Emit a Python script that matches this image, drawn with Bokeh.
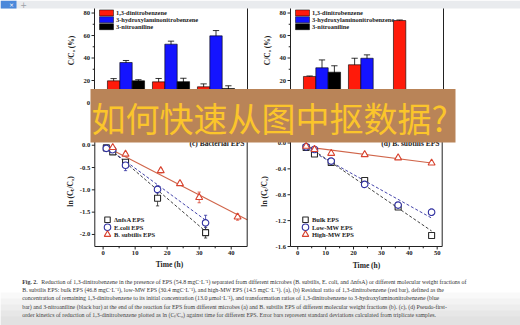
import numpy as np
from bokeh.plotting import figure
from bokeh.models import Range1d
from bokeh.core.properties import value
from bokeh.embed import file_html
from bokeh.resources import INLINE

W, H = 520, 325

# ---------------- data ----------------
bar_series = ["1,3-dinitrobenzene", "3-hydroxylaminonitrobenzene", "3-nitroaniline"]
bar_colors = ["#ff1a0a", "#1414ff", "#000000"]
bar_groups = [0, 1, 2]

a_dnb = [19.7, 18.8, 14.4]
a_dnb_err = [2.0, 3.0, 2.6]
a_han = [36.0, 52.3, 59.7]
a_han_err = [1.8, 2.7, 4.7]
a_na = [19.7, 19.0, 12.9]
a_na_err = [1.0, 3.0, 2.4]

b_dnb = [23.6, 34.0, 73.3]
b_dnb_err = [0.4, 5.8, 0.5]
b_han = [31.3, 39.8, 0.0]
b_han_err = [7.0, 3.0, 0.0]
b_na = [27.4, 0.0, 0.0]
b_na_err = [5.7, 0.0, 0.0]

bar_yticks = [0, 20, 40, 60, 80]
bar_ytick_labels = ["0", "20", "40", "60", "80"]
bar_yminor = [10, 30, 50, 70]

c_t = [1, 3, 7, 17, 32]
c_nfsA = [-0.06, -0.15, -0.38, -1.19, -1.96]
c_nfsA_err = [0.02, 0.03, 0.05, 0.17, 0.12]
c_ecoli = [-0.07, -0.10, -0.45, -0.99, -1.74]
c_ecoli_err = [0.02, 0.03, 0.12, 0.08, 0.17]
c_t_bsub = [3, 7, 18, 24, 30, 42]
c_bsub = [-0.05, -0.20, -0.57, -0.86, -1.17, -1.61]
c_bsub_err = [0.02, 0.03, 0.05, 0.04, 0.12, 0.07]
c_fit_t = [1, 32]
c_fit_nfsA = [-0.02, -1.93]
c_fit_ecoli = [-0.04, -1.68]
c_fit_t_bsub = [0, 45]
c_fit_bsub = [0.0, -1.67]
c_xticks = [0, 10, 20, 30, 40]
c_xtick_labels = ["0", "10", "20", "30", "40"]
c_xminor = [5, 15, 25, 35]
c_yticks = [0.0, -0.5, -1.0, -1.5, -2.0]
c_ytick_labels = ["0.0", "-0.5", "-1.0", "-1.5", "-2.0"]
c_legend = ["\u0394nfsA EPS", "E.coli EPS", "B. subtilis EPS"]

d_t = [3, 6, 12, 24, 36, 48]
d_bulk = [-0.07, -0.17, -0.30, -0.58, -0.99, -1.43]
d_bulk_err = [0.01, 0.02, 0.02, 0.03, 0.03, 0.02]
d_low = [-0.06, -0.10, -0.28, -0.64, -0.96, -1.07]
d_low_err = [0.01, 0.02, 0.02, 0.03, 0.03, 0.05]
d_high = [-0.05, -0.10, -0.16, -0.18, -0.23, -0.31]
d_high_err = [0.01, 0.01, 0.01, 0.01, 0.01, 0.01]
d_fit_t = [3, 48]
d_fit_bulk = [-0.035, -1.36]
d_fit_low = [-0.08, -1.16]
d_fit_high = [-0.06, -0.31]
d_xticks = [0, 10, 20, 30, 40, 50]
d_xtick_labels = ["0", "10", "20", "30", "40", "50"]
d_xminor = [5, 15, 25, 35, 45]
d_yticks = [0.0, -0.4, -0.8, -1.2, -1.6]
d_ytick_labels = ["0.0", "-0.4", "-0.8", "-1.2", "-1.6"]
d_legend = ["Bulk EPS", "Low-MW EPS", "High-MW EPS"]

banner_text = "如何快速从图中抠数据?"
caption_lead = "Fig. 2."
caption_lines = [
    "Reduction of 1,3-dinitrobenzene in the presence of EPS (54.8 mgC\u00b7L\u207b\u00b9) separated from different microbes (B. subtilis, E. coli, and \u0394nfsA) or different molecular weight fractions of",
    "B. subtilis EPS: bulk EPS (46.8 mgC\u00b7L\u207b\u00b9), low-MW EPS (30.4 mgC\u00b7L\u207b\u00b9), and high-MW EPS (14.5 mgC\u00b7L\u207b\u00b9). (a), (b) Residual ratio of 1,3-dinitrobenzene (red bar), defined as the",
    "concentration of remaining 1,3-dinitrobenzene to its initial concentration (13.0 \u03bcmol\u00b7L\u207b\u00b9), and transformation ratios of 1,3-dinitrobenzene to 3-hydroxylaminonitrobenzene (blue",
    "bar) and 3-nitroaniline (black bar) at the end of the reaction for EPS from different microbes (a) and B. subtilis EPS of different molecular weight fractions (b). (c), (d) Pseudo-first-",
    "order kinetics of reduction of 1,3-dinitrobenzene plotted as ln (C\u209c/C\u2080) against time for different EPS. Error bars represent standard deviations calculated from triplicate samples.",
]

# ---------------- canvas ----------------
p = figure(width=W, height=H, x_range=Range1d(0, W), y_range=Range1d(H, 0),
           output_backend="svg", toolbar_location=None, min_border=0,
           x_axis_location=None, y_axis_location=None)
p.grid.visible = False
p.outline_line_color = None
p.background_fill_color = "white"
p.border_fill_color = "white"

SERIF = value("Liberation Serif")


def panel(name, box, xlim, ylim):
    L, R, T, B = box
    x0, x1 = xlim
    y0, y1 = ylim
    sx = (x1 - x0) / (R - L)
    sy = (y1 - y0) / (B - T)
    p.extra_x_ranges[name] = Range1d(x0 - L * sx, x1 + (W - R) * sx)
    p.extra_y_ranges[name] = Range1d(y0 - (H - B) * sy, y1 + T * sy)
    return dict(name=name, xlim=xlim, ylim=ylim, sx=sx, sy=sy)


def rn(pn):
    return dict(x_range_name=pn["name"], y_range_name=pn["name"])


def frame(pn, lw=1.0):
    x0, x1 = pn["xlim"]
    y0, y1 = pn["ylim"]
    p.quad(left=[x0], right=[x1], bottom=[y0], top=[y1], fill_color=None,
           line_color="#222222", line_width=lw, **rn(pn))


def yaxis(pn, ticks, labels, minor=None, size="6.6px"):
    x0 = pn["xlim"][0]
    sx = pn["sx"]
    n = len(ticks)
    p.segment(x0=[x0] * n, x1=[x0 - 3 * sx] * n, y0=ticks, y1=ticks,
              line_color="#222222", line_width=1, **rn(pn))
    if minor:
        m = len(minor)
        p.segment(x0=[x0] * m, x1=[x0 - 1.8 * sx] * m, y0=minor, y1=minor,
                  line_color="#222222", line_width=1, **rn(pn))
    p.text(x=[x0 - 4.5 * sx] * n, y=ticks, text=labels, text_align="right",
           text_baseline="middle", text_font=SERIF, text_font_style="bold",
           text_font_size=size, text_color="#222222", **rn(pn))


def xaxis(pn, ticks, labels, minor=None, size="6.6px"):
    y0 = pn["ylim"][0]
    sy = pn["sy"]
    n = len(ticks)
    p.segment(x0=ticks, x1=ticks, y0=[y0] * n, y1=[y0 - 3 * sy] * n,
              line_color="#222222", line_width=1, **rn(pn))
    if minor:
        m = len(minor)
        p.segment(x0=minor, x1=minor, y0=[y0] * m, y1=[y0 - 1.8 * sy] * m,
                  line_color="#222222", line_width=1, **rn(pn))
    p.text(x=ticks, y=[y0 - 4.5 * sy] * n, text=labels, text_align="center",
           text_baseline="top", text_font=SERIF, text_font_style="bold",
           text_font_size=size, text_color="#222222", **rn(pn))


def bars(pn, series, errs):
    offs = [-0.275, 0.0, 0.275]
    for vals, err, off, col in zip(series, errs, offs, bar_colors):
        xs = [g + off for g in bar_groups]
        keep = [i for i in range(len(vals)) if err[i] > 0]
        ex = [xs[i] for i in keep]
        lo = [vals[i] - err[i] for i in keep]
        hi = [vals[i] + err[i] for i in keep]
        p.segment(x0=ex, x1=ex, y0=lo, y1=hi, line_color="black", line_width=0.8, **rn(pn))
        p.segment(x0=[x - 0.07 for x in ex], x1=[x + 0.07 for x in ex], y0=hi, y1=hi,
                  line_color="black", line_width=0.8, **rn(pn))
        p.vbar(x=xs, top=vals, bottom=0, width=0.275, fill_color=col,
               line_color="black", line_width=0.6, **rn(pn))


def bar_legend(x, ys):
    for y, col, lab in zip(ys, bar_colors, bar_series):
        p.quad(left=[x], right=[x + 14], top=[y - 3], bottom=[y + 3],
               fill_color=col, line_color="black", line_width=0.5)
        p.text(x=[x + 16.5], y=[y], text=[lab], text_baseline="middle",
               text_font=SERIF, text_font_style="bold", text_font_size="6.4px",
               text_color="#222222")


def errbars(pn, t, v, e, col):
    lo = [a - b for a, b in zip(v, e)]
    hi = [a + b for a, b in zip(v, e)]
    w = 1.6 * pn["sx"]
    p.segment(x0=t, x1=t, y0=lo, y1=hi, line_color=col, line_width=0.8, **rn(pn))
    p.segment(x0=[a - w for a in t], x1=[a + w for a in t], y0=hi, y1=hi, line_color=col, line_width=0.8, **rn(pn))
    p.segment(x0=[a - w for a in t], x1=[a + w for a in t], y0=lo, y1=lo, line_color=col, line_width=0.8, **rn(pn))


BLK = "#2a2a2a"
BLU = "#3030a0"
RED = "#d8432f"
REDL = "#d0654a"

# ---------- panel (a) ----------
pa = panel("a", (94, 247, 6.9, 102.5), (-0.7, 2.7), (0, 85))
bars(pa, [a_dnb, a_han, a_na], [a_dnb_err, a_han_err, a_na_err])
frame(pa)
yaxis(pa, bar_yticks, bar_ytick_labels, bar_yminor)
p.text(x=[71], y=[50], text=["C/C\u2080 (%)"], angle=np.pi / 2, text_align="center",
       text_baseline="middle", text_font=SERIF, text_font_style="bold",
       text_font_size="7.5px", text_color="#222222")
bar_legend(99, [12.4, 19.2, 26.2])

# ---------- panel (b) ----------
pb = panel("b", (290, 443, 6.9, 102.5), (-0.7, 2.7), (0, 85))
bars(pb, [b_dnb, b_han, b_na], [b_dnb_err, b_han_err, b_na_err])
frame(pb)
yaxis(pb, bar_yticks, bar_ytick_labels, bar_yminor)
p.text(x=[267], y=[50], text=["C/C\u2080 (%)"], angle=np.pi / 2, text_align="center",
       text_baseline="middle", text_font=SERIF, text_font_style="bold",
       text_font_size="7.5px", text_color="#222222")
bar_legend(295, [12.4, 19.2, 26.2])

# ---------- panel (c) ----------
pc = panel("c", (94.3, 246.7, 135.8, 246), (-2.6, 45.0), (-2.27, 0.2))
p.line(c_fit_t_bsub, c_fit_bsub, line_color=REDL, line_width=1.1, **rn(pc))
p.line(c_fit_t, c_fit_nfsA, line_color=BLK, line_width=0.9, line_dash="3 2", **rn(pc))
p.line(c_fit_t, c_fit_ecoli, line_color=BLU, line_width=0.9, line_dash="3 2", **rn(pc))
errbars(pc, c_t, c_nfsA, c_nfsA_err, BLK)
errbars(pc, c_t, c_ecoli, c_ecoli_err, BLU)
errbars(pc, c_t_bsub, c_bsub, c_bsub_err, RED)
p.scatter(c_t, c_nfsA, marker="square", size=6, fill_color="white", line_color=BLK, line_width=1.1, **rn(pc))
p.scatter(c_t, c_ecoli, marker="circle", size=6.5, fill_color="white", line_color=BLU, line_width=1.1, **rn(pc))
p.scatter(c_t_bsub, c_bsub, marker="triangle", size=7, fill_color="white", line_color=RED, line_width=1.1, **rn(pc))
frame(pc)
yaxis(pc, c_yticks, c_ytick_labels)
xaxis(pc, c_xticks, c_xtick_labels, c_xminor)
p.text(x=[244], y=[143], text=["(c) Bacterial EPS"], text_align="right", text_baseline="middle",
       text_font=SERIF, text_font_style="bold", text_font_size="7.5px", text_color="#222222")
p.text(x=[70], y=[191], text=["ln (C\u209c/C\u2080)"], angle=np.pi / 2, text_align="center",
       text_baseline="middle", text_font=SERIF, text_font_style="bold",
       text_font_size="7.5px", text_color="#222222")
p.text(x=[169], y=[263.5], text=["Time (h)"], text_align="center", text_baseline="middle",
       text_font=SERIF, text_font_style="bold", text_font_size="7.5px", text_color="#222222")
leg_y = [219.3, 226.7, 234.0]
p.scatter([107, 107, 107], leg_y, marker=["square", "circle", "triangle"], size=[5.5, 6.5, 6.5],
          fill_color="white", line_color=[BLK, BLU, RED], line_width=1.1)
p.text(x=[113.5] * 3, y=leg_y, text=c_legend, text_baseline="middle", text_font=SERIF,
       text_font_style="bold", text_font_size="6.5px", text_color="#222222")

# ---------- panel (d) ----------
pd_ = panel("d", (290, 441.7, 136, 246), (-2.6, 51.8), (-1.6, 0.1))
p.line(d_fit_t, d_fit_high, line_color=REDL, line_width=1.1, **rn(pd_))
p.line(d_fit_t, d_fit_bulk, line_color=BLK, line_width=0.9, line_dash="3 2", **rn(pd_))
p.line(d_fit_t, d_fit_low, line_color=BLU, line_width=0.9, line_dash="3 2", **rn(pd_))
errbars(pd_, d_t, d_bulk, d_bulk_err, BLK)
errbars(pd_, d_t, d_low, d_low_err, BLU)
errbars(pd_, d_t, d_high, d_high_err, RED)
p.scatter(d_t, d_bulk, marker="square", size=6, fill_color="white", line_color=BLK, line_width=1.1, **rn(pd_))
p.scatter(d_t, d_low, marker="circle", size=6.5, fill_color="white", line_color=BLU, line_width=1.1, **rn(pd_))
p.scatter(d_t, d_high, marker="triangle", size=7, fill_color="white", line_color=RED, line_width=1.1, **rn(pd_))
frame(pd_)
yaxis(pd_, d_yticks, d_ytick_labels)
xaxis(pd_, d_xticks, d_xtick_labels, d_xminor)
p.text(x=[439], y=[143], text=["(d) B. subtilis EPS"], text_align="right", text_baseline="middle",
       text_font=SERIF, text_font_style="bold", text_font_size="7.5px", text_color="#222222")
p.text(x=[264], y=[191], text=["ln (C\u209c/C\u2080)"], angle=np.pi / 2, text_align="center",
       text_baseline="middle", text_font=SERIF, text_font_style="bold",
       text_font_size="7.5px", text_color="#222222")
p.text(x=[366], y=[264.5], text=["Time (h)"], text_align="center", text_baseline="middle",
       text_font=SERIF, text_font_style="bold", text_font_size="7.5px", text_color="#222222")
p.scatter([305, 305, 305], leg_y, marker=["square", "circle", "triangle"], size=[5.5, 6.5, 6.5],
          fill_color="white", line_color=[BLK, BLU, RED], line_width=1.1)
p.text(x=[311.5] * 3, y=leg_y, text=d_legend, text_baseline="middle", text_font=SERIF,
       text_font_style="bold", text_font_size="6.5px", text_color="#222222")

# ---------- banner overlay ----------
p.quad(left=[90], right=[455], top=[88.5], bottom=[142], fill_color="#b98458", line_color=None)
p.text(x=[91], y=[116.5], text=[banner_text], text_baseline="middle", text_font=value("Noto Sans CJK SC"),
       text_font_size="34px", text_color="#fbc52b")

# ---------- caption ----------
cap_y = [281.0, 289.3, 297.8, 306.0, 314.2]
p.text(x=[21.7], y=[cap_y[0]], text=[caption_lead], text_baseline="middle", text_font=SERIF,
       text_font_style="bold", text_font_size="5.9px", text_color="#333333")
p.text(x=[40.7] + [21.7] * 4, y=cap_y, text=caption_lines, text_baseline="middle", text_font=SERIF,
       text_font_size="5.9px", text_color="#333333")

# bottom shading
shade_top = [292, 298, 304, 310, 316]
for i, t in enumerate(shade_top):
    p.quad(left=[0], right=[W], top=[t], bottom=[H], fill_color="#8a8a8a", fill_alpha=0.05, line_color=None)

# ---------- browser tab strip ----------
p.quad(left=[0], right=[W], top=[0], bottom=[8], fill_color="#e9ebee", line_color=None)
p.quad(left=[0], right=[16], top=[0], bottom=[8], fill_color="#4b88da", line_color=None)
p.text(x=[11], y=[4.2], text=["\u00d7"], text_align="center", text_baseline="middle",
       text_font=value("DejaVu Sans"), text_font_size="6px", text_color="white")
p.text(x=[23], y=[4.2], text=["+"], text_align="center", text_baseline="middle",
       text_font=value("DejaVu Sans"), text_font_size="8px", text_color="#9aa0a6")

open("out.html", "w").write(file_html(p, INLINE))
